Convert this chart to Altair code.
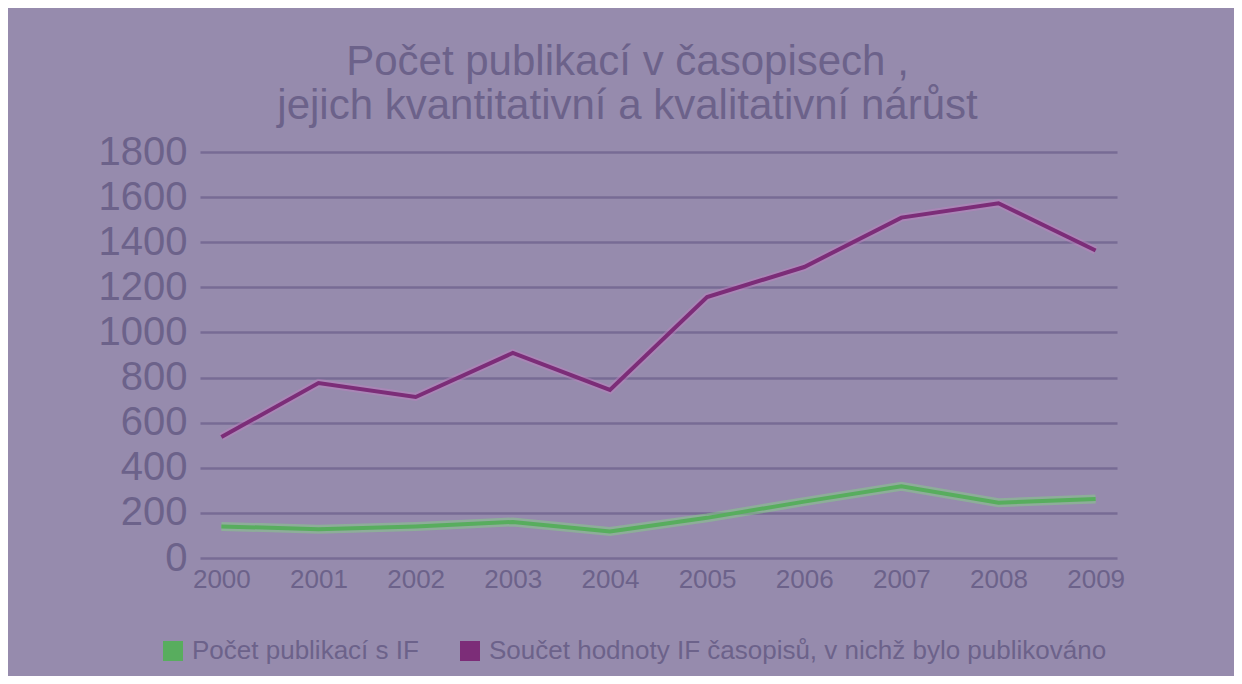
import altair as alt
import pandas as pd

years = ["2000", "2001", "2002", "2003", "2004", "2005", "2006", "2007", "2008", "2009"]
publikace_if = [140, 128, 140, 160, 118, 178, 250, 318, 245, 262]
soucet_if = [536, 776, 714, 909, 745, 1157, 1290, 1509, 1573, 1363]
series_names = ["Počet publikací s IF", "Součet hodnoty IF časopisů, v nichž bylo publikováno"]
title_lines = ["Počet publikací v časopisech ,", "jejich kvantitativní a kvalitativní nárůst"]
y_ticks = list(range(0, 1801, 200))

rows = []
for y, a, b in zip(years, publikace_if, soucet_if):
    rows.append({"rok": y, "serie": series_names[0], "hodnota": a})
    rows.append({"rok": y, "serie": series_names[1], "hodnota": b})
df = pd.DataFrame(rows)

FONT = "Liberation Sans, Arial, sans-serif"
TEXT = "#6c628a"
BG = "#968bad"
GRID = "#776b95"
GREEN = "#58ad5e"
PURPLE = "#7c2d78"

x_enc = alt.X("rok:N", sort=years, title=None,
              scale=alt.Scale(type="point", padding=0.22),
              axis=alt.Axis(labelAngle=0, labelFontSize=26, labelFont=FONT, labelColor=TEXT,
                            labelPadding=8, ticks=False, domain=False, grid=False))
y_enc = alt.Y("hodnota:Q", title=None,
              scale=alt.Scale(domain=[0, 1800], nice=False),
              axis=alt.Axis(values=y_ticks, format="d", labelFontSize=40, labelFont=FONT,
                            labelColor=TEXT, labelPadding=13, ticks=False, domain=False,
                            grid=True, gridColor=GRID, gridWidth=2.5))

base = alt.Chart(df)

halo_p = base.transform_filter(alt.datum.serie == series_names[1]).mark_line(
    color="#c080c0", strokeWidth=8, opacity=0.45).encode(x=x_enc, y=y_enc)
halo_g = base.transform_filter(alt.datum.serie == series_names[0]).mark_line(
    color="#86d088", strokeWidth=9, opacity=0.5).encode(x=x_enc, y=y_enc)

lines = base.mark_line(strokeWidth=4).encode(
    x=x_enc, y=y_enc,
    color=alt.Color("serie:N", sort=series_names,
                    scale=alt.Scale(domain=series_names, range=[GREEN, PURPLE]),
                    legend=alt.Legend(title=None, orient="none", legendX=-40, legendY=486,
                                      direction="horizontal", symbolType="square",
                                      symbolSize=100, symbolStrokeWidth=10, symbolOpacity=1,
                                      labelFont=FONT, labelFontSize=26, labelColor=TEXT,
                                      labelOffset=6, columnPadding=26, padding=0,
                                      labelLimit=800)),
)

chart = alt.layer(halo_g, halo_p, lines).properties(
    width=917, height=406,
    autosize=alt.AutoSizeParams(type="none"),
    padding={"left": 192, "top": 144, "right": 117, "bottom": 118},
    title=alt.TitleParams(text=title_lines, font=FONT, fontSize=42, fontWeight="normal",
                          color=TEXT, lineHeight=44, anchor="middle", dx=-31, offset=4),
).configure(background=BG).configure_view(stroke=None)

chart.save("out.html", embed_options={"renderer": "svg", "actions": False})
